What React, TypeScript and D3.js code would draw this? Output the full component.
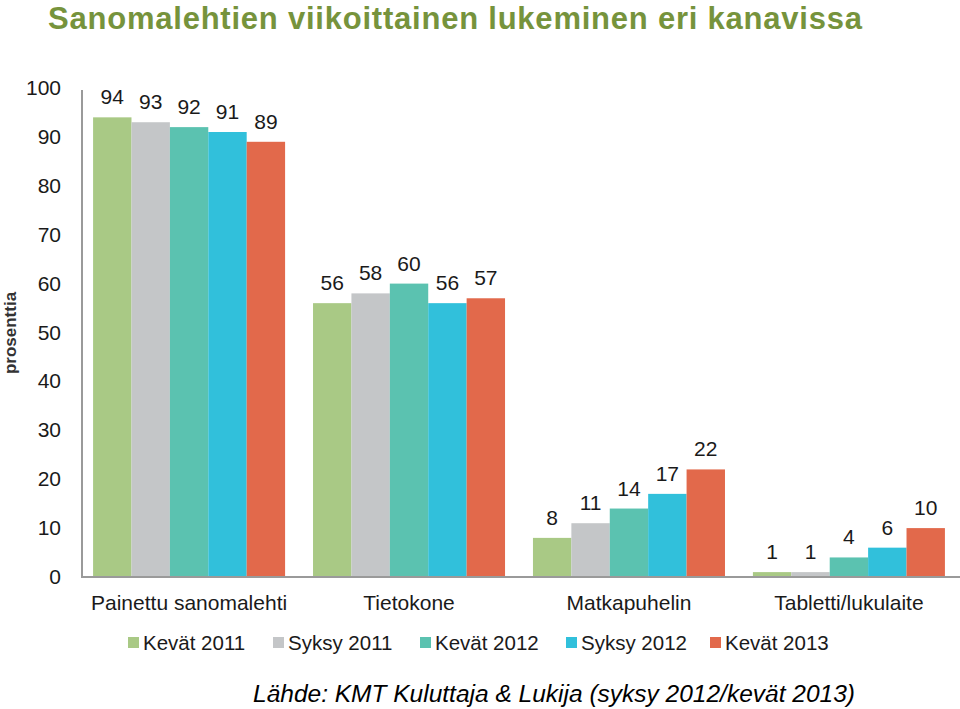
import React, { useEffect, useRef } from 'react';
import * as d3 from 'd3';

const categories = ['Painettu sanomalehti', 'Tietokone', 'Matkapuhelin', 'Tabletti/lukulaite'];
const seriesNames = ['Kevät 2011', 'Syksy 2011', 'Kevät 2012', 'Syksy 2012', 'Kevät 2013'];
const kevat2011 = [94, 56, 8, 1];
const syksy2011 = [93, 58, 11, 1];
const kevat2012 = [92, 60, 14, 4];
const syksy2012 = [91, 56, 17, 6];
const kevat2013 = [89, 57, 22, 10];
const yTicks = [0, 10, 20, 30, 40, 50, 60, 70, 80, 90, 100];

const seriesValues = [kevat2011, syksy2011, kevat2012, syksy2012, kevat2013];
const colors = ['#a9c985', '#c4c6c8', '#5bc2b0', '#31c0db', '#e2694b'];

const App: React.FC = () => {
  const svgRef = useRef<SVGSVGElement>(null);

  useEffect(() => {
    if (!svgRef.current) return;
    const svg = d3.select(svgRef.current);
    svg.selectAll('*').remove();

    const font = 'Liberation Sans, Arial, sans-serif';

    const x = d3.scaleBand<string>()
      .domain(categories)
      .range([79, 959])
      .paddingInner(0.127)
      .paddingOuter(0.064);

    const x1 = d3.scaleBand<string>()
      .domain(seriesNames)
      .range([0, x.bandwidth()]);

    const y = d3.scaleLinear().domain([0, 100]).range([577, 88]);

    // title
    svg.append('text')
      .attr('x', 48)
      .attr('y', 29)
      .attr('font-family', font)
      .attr('font-weight', 'bold')
      .attr('font-size', 31)
      .attr('textLength', 814)
      .attr('fill', '#76933c')
      .text('Sanomalehtien viikoittainen lukeminen eri kanavissa');

    // y axis labels
    svg.append('g')
      .selectAll('text')
      .data(yTicks)
      .enter()
      .append('text')
      .attr('x', 61)
      .attr('y', d => y(d) + 7)
      .attr('text-anchor', 'end')
      .attr('font-family', font)
      .attr('font-size', 21)
      .attr('fill', '#1a1a1a')
      .text(d => d);

    svg.append('text')
      .attr('transform', `translate(16,333) rotate(-90)`)
      .attr('text-anchor', 'middle')
      .attr('font-family', font)
      .attr('font-weight', 'bold')
      .attr('font-size', 17)
      .attr('fill', '#333')
      .text('prosenttia');

    // bars
    seriesNames.forEach((name, si) => {
      const g = svg.append('g');
      g.selectAll('rect')
        .data(seriesValues[si])
        .enter()
        .append('rect')
        .attr('x', (_, i) => (x(categories[i]) || 0) + (x1(name) || 0))
        .attr('y', d => y(d))
        .attr('width', x1.bandwidth())
        .attr('height', d => y(0) - y(d))
        .attr('fill', colors[si]);

      g.selectAll('text')
        .data(seriesValues[si])
        .enter()
        .append('text')
        .attr('x', (_, i) => (x(categories[i]) || 0) + (x1(name) || 0) + x1.bandwidth() / 2)
        .attr('y', d => y(d) - 13)
        .attr('text-anchor', 'middle')
        .attr('font-family', font)
        .attr('font-size', 21)
        .attr('fill', '#1a1a1a')
        .text(d => d);
    });

    // axis lines
    svg.append('line')
      .attr('x1', 82).attr('x2', 82)
      .attr('y1', 90).attr('y2', y(0))
      .attr('stroke', '#9a9a9a')
      .attr('stroke-width', 2);
    svg.append('line')
      .attr('x1', 81).attr('x2', 960)
      .attr('y1', y(0)).attr('y2', y(0))
      .attr('stroke', '#9a9a9a')
      .attr('stroke-width', 2);

    // category labels
    svg.append('g')
      .selectAll('text')
      .data(categories)
      .enter()
      .append('text')
      .attr('x', d => (x(d) || 0) + x.bandwidth() / 2)
      .attr('y', 610)
      .attr('text-anchor', 'middle')
      .attr('font-family', font)
      .attr('font-size', 21)
      .attr('fill', '#1a1a1a')
      .text(d => d);

    // legend
    const legendX = [128, 273, 420, 566, 710];
    const legend = svg.append('g');
    seriesNames.forEach((name, i) => {
      const item = legend.append('g').attr('transform', `translate(${legendX[i]},643)`);
      item.append('rect')
        .attr('x', 0).attr('y', -6)
        .attr('width', 11).attr('height', 11)
        .attr('fill', colors[i]);
      item.append('text')
        .attr('x', 15)
        .attr('y', 7)
        .attr('font-family', font)
        .attr('font-size', 20.5)
        .attr('fill', '#1a1a1a')
        .text(name);
    });

    // source
    svg.append('text')
      .attr('x', 253)
      .attr('y', 702)
      .attr('font-family', font)
      .attr('font-style', 'italic')
      .attr('font-size', 24.5)
      .attr('fill', '#000')
      .text('Lähde: KMT Kuluttaja & Lukija (syksy 2012/kevät 2013)');
  }, []);

  return (
    <svg
      ref={svgRef}
      width={960}
      height={709}
      style={{ position: 'absolute', left: 0, top: 0, background: '#fff' }}
    />
  );
};

export default App;
